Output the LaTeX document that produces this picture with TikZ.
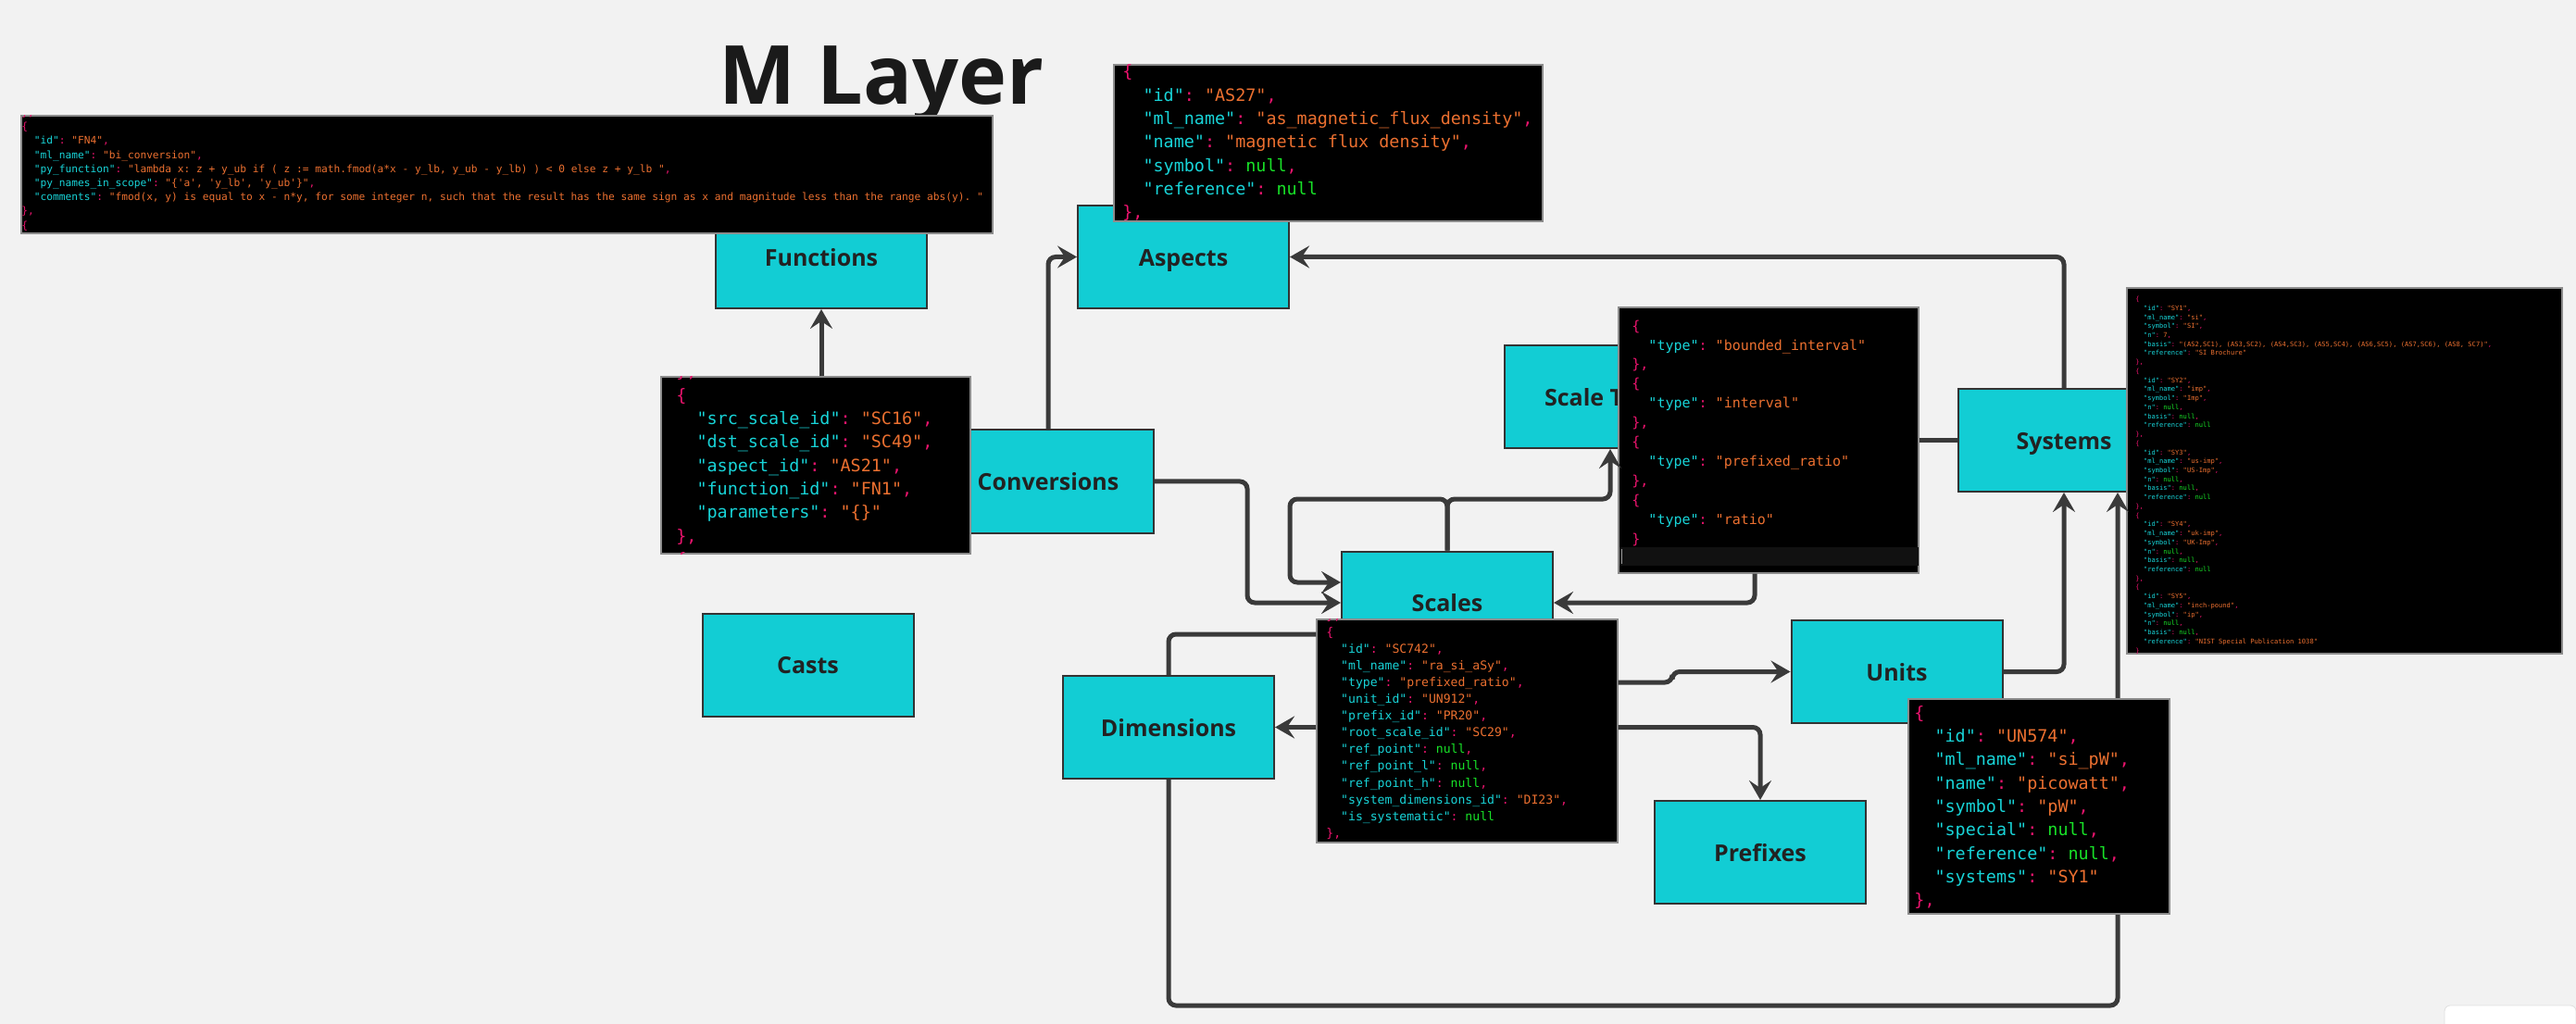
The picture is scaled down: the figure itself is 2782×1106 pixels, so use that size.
\documentclass[tikz,border=0pt]{standalone}
\usepackage{fontspec}
\setmainfont{Open Sans}
\setmonofont{DejaVu Sans Mono}
\usetikzlibrary{arrows.meta}
\definecolor{canvas}{RGB}{242,242,242}
\definecolor{tablefill}{RGB}{18,205,212}
\definecolor{tableline}{RGB}{51,51,51}
\definecolor{labeltext}{RGB}{34,34,34}
\definecolor{edgegray}{RGB}{58,58,58}
\definecolor{stripgray}{RGB}{17,17,17}
\definecolor{jkey}{RGB}{24,212,216}
\definecolor{jstr}{RGB}{236,112,48}
\definecolor{jnull}{RGB}{24,226,40}
\definecolor{jpunc}{RGB}{236,20,110}
\newcommand{\jk}[1]{\textcolor{jkey}{"#1"}\textcolor{jpunc}{:}\ }
\newcommand{\js}[1]{\textcolor{jstr}{"#1"}}
\newcommand{\jv}[1]{\textcolor{jstr}{#1}}
\newcommand{\jn}{\textcolor{jnull}{null}}
\newcommand{\jc}{\textcolor{jpunc}{,}}
\newcommand{\jo}{\textcolor{jpunc}{\{}}
\newcommand{\jx}{\textcolor{jpunc}{\}}}
\newcommand{\ind}{\hphantom{xx}}
\newcommand{\q}{\textquotesingle}
\tikzstyle{entity}=[rectangle,draw=tableline,fill=tablefill,line width=1pt,minimum width=114pt,minimum height=55.5pt,inner sep=0pt,text height=9.9pt,text depth=0pt,text=labeltext,font=\fontsize{12.5}{15}\selectfont\bfseries]
\tikzstyle{jsonbox}=[rectangle,fill=black,draw=black!45,line width=0.6pt,inner sep=0pt]
\tikzstyle{jsontext}=[anchor=north west,inner sep=0pt,align=left,text=white]
\tikzstyle{codeL}=[jsontext,font=\ttfamily\fontsize{9.2}{12.65}\selectfont]
\tikzstyle{codeM}=[jsontext,font=\ttfamily\fontsize{7.5}{10.45}\selectfont]
\tikzstyle{codeS}=[jsontext,font=\ttfamily\fontsize{6.56}{9.03}\selectfont]
\tikzstyle{codeXS}=[jsontext,font=\ttfamily\fontsize{5.6}{7.6}\selectfont]
\tikzstyle{codeXXS}=[jsontext,font=\ttfamily\fontsize{3.55}{4.865}\selectfont]
\tikzstyle{link}=[draw=edgegray,line width=2.5pt,rounded corners=4pt,-{Stealth[length=10.5pt,width=12pt,inset=4pt]}]
\tikzstyle{wire}=[draw=edgegray,line width=2.5pt,rounded corners=4pt]

\begin{document}
\begin{tikzpicture}[x=0.5pt,y=-0.5pt]
\useasboundingbox[fill=canvas] (0,0) rectangle (2782,1106);
\node[font=\fontsize{44}{50}\selectfont\bfseries,text={rgb,255:red,26;green,26;blue,26},anchor=base] (title) at (952,113) {M Layer};
% tables
\node[entity] (Functions) at (887,277.5) {Functions};
\node[entity] (Aspects) at (1278,277.5) {Aspects};
\node[entity] (Conversions) at (1132,520) {Conversions};
\node[entity] (Casts) at (872.5,718) {Casts};
\node[entity] (Scales) at (1563,651) {Scales};
\node[entity] (Dimensions) at (1262,785.5) {Dimensions};
\node[entity] (Prefixes) at (1901,920.5) {Prefixes};
\node[entity] (Units) at (2048.5,725.5) {Units};
\node[entity] (Systems) at (2229,475.5) {Systems};
\node[entity] (ScaleTypes) at (1739,428.5) {Scale Types};
% sample rows
\node[jsonbox,minimum width=524.5pt,minimum height=63.5pt] (fnjson) at (547.5,188.5) {};
\begin{scope}
\clip (fnjson.south west) rectangle (fnjson.north east);
\node[codeXS] (fntext) at (23,114.4) {\strut\jx\jc\\
\jo\\
\ind\jk{id}\js{FN4}\jc\\
\ind\jk{ml\_name}\js{bi\_conversion}\jc\\
\ind\jk{py\_function}\js{lambda x: z + y\_ub if ( z := math.fmod(a*x - y\_lb, y\_ub - y\_lb) ) < 0 else z + y\_lb }\jc\\
\ind\jk{py\_names\_in\_scope}\js{\{\q a\q, \q y\_lb\q, \q y\_ub\q\}}\jc\\
\ind\jk{comments}\js{fmod(x, y) is equal to x - n*y, for some integer n, such that the result has the same sign as x and magnitude less than the range abs(y). }\\
\jx\jc\\
\jo};
\end{scope}
\node[jsonbox,minimum width=231.5pt,minimum height=84.5pt] (asjson) at (1434.5,154.5) {};
\begin{scope}
\clip (asjson.south west) rectangle (asjson.north east);
\node[codeL] (astext) at (1212,65.8) {\strut\jo\\
\ind\jk{id}\js{AS27}\jc\\
\ind\jk{ml\_name}\js{as\_magnetic\_flux\_density}\jc\\
\ind\jk{name}\js{magnetic flux density}\jc\\
\ind\jk{symbol}\jn\jc\\
\ind\jk{reference}\jn\\
\jx\jc};
\end{scope}
\node[jsonbox,minimum width=167pt,minimum height=95.5pt] (cvjson) at (881,502.5) {};
\begin{scope}
\clip (cvjson.south west) rectangle (cvjson.north east);
\node[codeL] (cvtext) at (730,389.8) {\strut\jx\jc\\
\jo\\
\ind\jk{src\_scale\_id}\js{SC16}\jc\\
\ind\jk{dst\_scale\_id}\js{SC49}\jc\\
\ind\jk{aspect\_id}\js{AS21}\jc\\
\ind\jk{function\_id}\js{FN1}\jc\\
\ind\jk{parameters}\js{\{\}}\\
\jx\jc\\
\jo};
\end{scope}
\node[jsonbox,minimum width=162pt,minimum height=143.5pt] (stjson) at (1910,475.5) {};
\begin{scope}
\clip (stjson.south west) rectangle (stjson.north east);
\node[codeM] (sttext) at (1762,342.1) {\strut\jo\\
\ind\jk{type}\js{bounded\_interval}\\
\jx\jc\\
\jo\\
\ind\jk{type}\js{interval}\\
\jx\jc\\
\jo\\
\ind\jk{type}\js{prefixed\_ratio}\\
\jx\jc\\
\jo\\
\ind\jk{type}\js{ratio}\\
\jx};
\fill[stripgray] (1749,591) rectangle (2072,611);
\draw[black!40,line width=0.5pt] (1751,593) -- (1751,609);
\end{scope}
\node[jsonbox,minimum width=162.5pt,minimum height=120.5pt] (scjson) at (1584.5,789.5) {};
\begin{scope}
\clip (scjson.south west) rectangle (scjson.north east);
\node[codeS] (sctext) at (1432,656.4) {\strut\jx\jc\\
\jo\\
\ind\jk{id}\js{SC742}\jc\\
\ind\jk{ml\_name}\js{ra\_si\_aSy}\jc\\
\ind\jk{type}\js{prefixed\_ratio}\jc\\
\ind\jk{unit\_id}\js{UN912}\jc\\
\ind\jk{prefix\_id}\js{PR20}\jc\\
\ind\jk{root\_scale\_id}\js{SC29}\jc\\
\ind\jk{ref\_point}\jn\jc\\
\ind\jk{ref\_point\_l}\jn\jc\\
\ind\jk{ref\_point\_h}\jn\jc\\
\ind\jk{system\_dimensions\_id}\js{DI23}\jc\\
\ind\jk{is\_systematic}\jn\\
\jx\jc};
\end{scope}
\node[jsonbox,minimum width=235pt,minimum height=197.5pt] (syjson) at (2532,508.5) {};
\begin{scope}
\clip (syjson.south west) rectangle (syjson.north east);
\node[codeXXS] (sytext) at (2306,318.4) {\strut\jo\\
\ind\jk{id}\js{SY1}\jc\\
\ind\jk{ml\_name}\js{si}\jc\\
\ind\jk{symbol}\js{SI}\jc\\
\ind\jk{n}\jv{7}\jc\\
\ind\jk{basis}\js{(AS2,SC1), (AS3,SC2), (AS4,SC3), (AS5,SC4), (AS6,SC5), (AS7,SC6), (AS8, SC7)}\jc\\
\ind\jk{reference}\js{SI Brochure}\\
\jx\jc\\
\jo\\
\ind\jk{id}\js{SY2}\jc\\
\ind\jk{ml\_name}\js{imp}\jc\\
\ind\jk{symbol}\js{Imp}\jc\\
\ind\jk{n}\jn\jc\\
\ind\jk{basis}\jn\jc\\
\ind\jk{reference}\jn\\
\jx\jc\\
\jo\\
\ind\jk{id}\js{SY3}\jc\\
\ind\jk{ml\_name}\js{us-imp}\jc\\
\ind\jk{symbol}\js{US-Imp}\jc\\
\ind\jk{n}\jn\jc\\
\ind\jk{basis}\jn\jc\\
\ind\jk{reference}\jn\\
\jx\jc\\
\jo\\
\ind\jk{id}\js{SY4}\jc\\
\ind\jk{ml\_name}\js{uk-imp}\jc\\
\ind\jk{symbol}\js{UK-Imp}\jc\\
\ind\jk{n}\jn\jc\\
\ind\jk{basis}\jn\jc\\
\ind\jk{reference}\jn\\
\jx\jc\\
\jo\\
\ind\jk{id}\js{SY5}\jc\\
\ind\jk{ml\_name}\js{inch-pound}\jc\\
\ind\jk{symbol}\js{ip}\jc\\
\ind\jk{n}\jn\jc\\
\ind\jk{basis}\jn\jc\\
\ind\jk{reference}\js{NIST Special Publication 1038}\\
\jx};
\end{scope}
% relations
\draw[link] (cvjson.north -| Functions.south) -- (Functions.south);
\draw[link] (Conversions.north) |- (Aspects.west);
\draw[link] (Systems.north) |- (Aspects.east);
\draw[link] (Conversions.east) -| (1347,651) -- (Scales.west);
\draw[link] (Scales.north) |- (1393,539) |- ([yshift=11pt]Scales.west);
\draw[link] (Scales.north) -- (1563,539) -| (ScaleTypes.south);
\draw[link] ([xshift=-7.5pt]stjson.south) |- (Scales.east);
\draw[wire] (stjson.east |- Systems.west) -- (Systems.west);
\draw[link] ([yshift=26.25pt]scjson.east) -- (1806,737) -- (1806,725.5) -- (Units.west);
\draw[link] (scjson.east |- Dimensions.east) -| (Prefixes.north);
\draw[link] (scjson.west |- Dimensions.east) -- (Dimensions.east);
\draw[wire] ([yshift=52.25pt]scjson.west) -| (Dimensions.north);
\draw[link] (Dimensions.south) |- (2287,1086) -- ([xshift=29pt]Systems.south);
\draw[link] (Units.east) -| (Systems.south);
% unit row on top of the loop
\node[jsonbox,minimum width=141pt,minimum height=116pt] (unjson) at (2202,871) {};
\node[codeL] (untext) at (2067,758.1) {\strut\jo\\
\ind\jk{id}\js{UN574}\jc\\
\ind\jk{ml\_name}\js{si\_pW}\jc\\
\ind\jk{name}\js{picowatt}\jc\\
\ind\jk{symbol}\js{pW}\jc\\
\ind\jk{special}\jn\jc\\
\ind\jk{reference}\jn\jc\\
\ind\jk{systems}\js{SY1}\\
\jx\jc};
\node[rectangle,fill=white,draw=black!12,rounded corners=3pt,minimum width=71pt,minimum height=14pt] (panel) at (2711,1100) {};
\end{tikzpicture}
\end{document}
